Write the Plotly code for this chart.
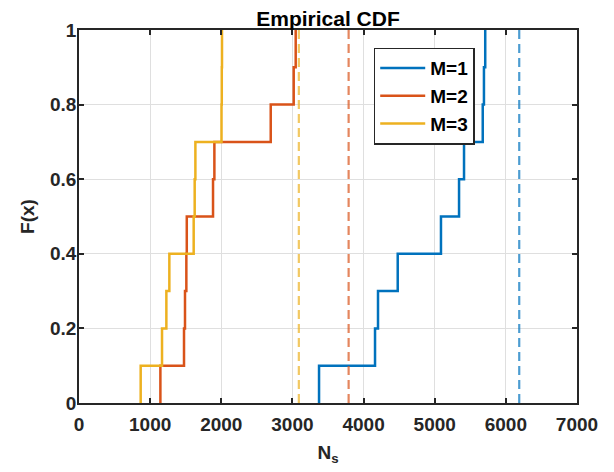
import plotly.graph_objects as go

# Sample values (N_s) per M, read from the ECDF steps
m1_samples = [3374, 4161, 4203, 4480, 5088, 5342, 5412, 5675, 5692, 5710]
m2_samples = [1144, 1476, 1490, 1509, 1515, 1884, 1903, 2695, 3018, 3046]
m3_samples = [867, 1167, 1228, 1270, 1612, 1626, 1636, 2003, 2007, 2010]

# Dashed reference lines (one per M)
ref_values = [6188, 3790, 3090]

series_names = ["M=1", "M=2", "M=3"]
colors = ["#0072BD", "#D95319", "#EDB120"]
dash_colors = ["rgba(0,114,189,0.7)", "rgba(217,83,25,0.7)", "rgba(237,177,32,0.7)"]

x_ticks = [0, 1000, 2000, 3000, 4000, 5000, 6000, 7000]
y_ticks = [0, 0.2, 0.4, 0.6, 0.8, 1]
y_ticktext = ["0", "0.2", "0.4", "0.6", "0.8", "1"]

FONT = "Liberation Sans, Arial, sans-serif"
TXT = "#262626"

fig = go.Figure()

for samples, name, col in zip([m1_samples, m2_samples, m3_samples], series_names, colors):
    xs = sorted(samples)
    n = len(xs)
    x = [xs[0]] + xs
    y = [0] + [(i + 1) / n for i in range(n)]
    fig.add_trace(go.Scatter(x=x, y=y, mode="lines", line=dict(color=col, width=2.5, shape="hv"),
                             name=name, showlegend=True))

for v, dc in zip(ref_values, dash_colors):
    fig.add_trace(go.Scatter(x=[v, v], y=[0, 1], mode="lines",
                             line=dict(color=dc, width=2.2, dash="9px,5px"),
                             showlegend=False, hoverinfo="skip"))

axis_common = dict(
    showgrid=True, gridcolor="#dfdfdf", gridwidth=1.3,
    showline=True, linecolor=TXT, linewidth=1.8, mirror="ticks",
    ticks="inside", ticklen=5, tickwidth=1.5, tickcolor=TXT,
    zeroline=False,
    tickfont=dict(family=FONT, size=19, color=TXT, weight="bold"),
)

# The page body has an 8px default margin, so the figure is sized/offset to compensate
fig.update_layout(
    width=606, height=464,
    margin=dict(l=71.3, r=36.7, t=22, b=69.3, autoexpand=False),
    paper_bgcolor="white", plot_bgcolor="white",
    title=dict(text="Empirical CDF", xref="paper", x=0.5, xanchor="center",
               yref="paper", y=1, yanchor="bottom", pad=dict(b=4),
               font=dict(family=FONT, size=21, color="#000000", weight="bold")),
    xaxis=dict(range=[0, 7000], tickvals=x_ticks, ticklabelstandoff=3,
               title=dict(text="N<sub>s</sub>", font=dict(family=FONT, size=19, color=TXT, weight="bold"),
                          standoff=12),
               **axis_common),
    yaxis=dict(range=[0, 1], tickvals=y_ticks, ticktext=y_ticktext, ticklabelstandoff=-3,
               title=dict(text="F(x)", font=dict(family=FONT, size=19, color=TXT, weight="bold"),
                          standoff=10),
               **axis_common),
    legend=dict(x=0.5918, y=0.9525, xanchor="left", yanchor="top",
                bgcolor="white", bordercolor=TXT, borderwidth=1.5,
                font=dict(family=FONT, size=19, color="#000000", weight="bold"),
                tracegroupgap=0, itemwidth=45),
    showlegend=True,
)

fig.write_html("out.html")
